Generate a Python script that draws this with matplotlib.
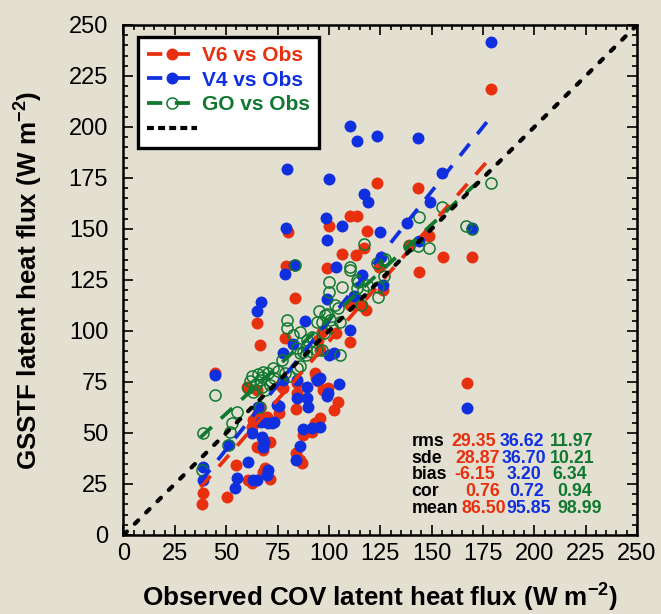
import numpy as np
import matplotlib.pyplot as plt
from matplotlib.lines import Line2D
from matplotlib.ticker import MultipleLocator

plt.rcParams['font.family'] = ['Liberation Sans', 'DejaVu Sans']
plt.rcParams['lines.scale_dashes'] = False
plt.rcParams['mathtext.fontset'] = 'custom'
plt.rcParams['mathtext.bf'] = 'Liberation Sans:bold'
plt.rcParams['mathtext.rm'] = 'Liberation Sans'

# colours
c_v6 = '#E8300F'
c_v4 = '#1030E0'
c_go = '#107830'
bg = '#E3E0D1'

# V6 vs Obs
v6_x = [38.6, 38.1, 50.5, 54.8, 60.8, 62.4, 68.9, 71.3, 67.8, 62.4,
        63.2, 64.8, 68.1, 71.3, 64.8, 69.7, 60.0, 64.8, 66.0, 75.7,
        44.5, 84.0, 85.9, 87.0, 95.7, 92.4, 93.2, 87.5, 91.6, 102.6,
        104.6, 84.6, 84.0, 77.5, 76.2, 94.5, 93.7, 97.3, 99.7, 93.2,
        84.3, 83.5, 79.1, 65.1, 66.5, 78.6, 96.5, 94.8, 103.3, 110.3,
        95.7, 110.3, 116.0, 117.9, 99.2, 106.2, 113.2, 117.2, 124.5, 79.9,
        100.0, 110.3, 113.8, 118.7, 123.6, 126.2, 144.0, 139.0, 148.9, 155.4,
        169.8, 167.1, 143.5, 178.8]
v6_y = [20.4, 15.2, 18.5, 34.3, 27.0, 25.3, 32.7, 27.3, 31.0, 53.1,
        56.4, 43.3, 41.7, 45.7, 58.8, 58.0, 72.7, 71.1, 62.9, 59.7,
        79.3, 40.0, 36.8, 35.4, 57.2, 52.3, 54.8, 49.0, 50.6, 61.3,
        65.3, 69.5, 61.6, 71.9, 73.5, 75.5, 76.8, 71.1, 71.9, 79.6,
        74.4, 116.0, 131.9, 103.8, 93.1, 96.7, 99.7, 95.6, 98.9, 94.8,
        90.7, 112.7, 112.7, 110.3, 130.7, 137.7, 137.3, 140.5, 131.5, 148.7,
        151.5, 156.4, 156.4, 149.0, 172.7, 120.0, 128.8, 142.0, 146.6, 136.1,
        136.1, 74.4, 170.0, 218.6]

# V4 vs Obs
v4_x = [178.8, 143.5, 155.2, 149.2, 169.8, 167.1, 137.9, 124.9, 144.0, 126.2,
        110.3, 113.8, 123.6, 100.0, 117.2, 118.9, 98.6, 106.2, 99.2, 103.5,
        125.4, 116.0, 79.7, 79.1, 83.2, 78.6, 112.2, 98.9, 66.8, 65.1,
        88.4, 82.4, 77.5, 110.3, 102.5, 100.2, 44.5, 75.7, 66.9, 70.5,
        73.4, 67.3, 68.4, 67.8, 62.4, 51.5, 60.5, 84.0, 85.9, 87.5,
        91.6, 95.7, 105.0, 99.7, 98.9, 84.6, 89.2, 89.7, 89.2, 77.5,
        84.3, 94.0, 95.7, 38.9, 38.6, 54.3, 55.1, 63.2, 64.8, 69.7,
        70.5, 65.6, 74.6, 72.2]
v4_y = [241.5, 194.5, 177.6, 163.4, 150.3, 62.4, 152.8, 148.4, 144.3, 122.5,
        200.6, 193.3, 195.6, 174.5, 167.2, 163.4, 155.2, 151.6, 144.6, 131.5,
        136.4, 127.5, 179.4, 150.3, 132.4, 127.9, 117.3, 115.5, 114.0, 110.0,
        104.9, 93.6, 89.0, 100.5, 89.0, 88.2, 78.4, 63.2, 55.5, 55.0,
        55.5, 48.2, 45.4, 43.3, 49.8, 44.1, 35.9, 36.8, 43.6, 52.0,
        52.3, 53.1, 73.9, 69.5, 68.1, 67.0, 67.0, 62.9, 72.4, 76.0,
        76.0, 76.0, 76.8, 27.0, 33.2, 22.9, 27.8, 27.0, 27.0, 29.4,
        31.9, 62.9, 63.7, 54.8]

# GO vs Obs
go_x = [178.8, 155.2, 144.0, 166.7, 169.8, 139.0, 143.5, 148.9, 126.5, 126.8,
        117.2, 110.3, 110.3, 123.3, 114.0, 118.4, 116.7, 106.2, 100.0, 100.0,
        124.0, 115.6, 124.0, 113.5, 83.5, 79.5, 79.5, 82.7, 85.9, 91.6,
        89.2, 94.0, 98.1, 100.5, 104.6, 103.0, 105.4, 84.3, 87.5, 91.6,
        96.5, 105.4, 77.0, 72.9, 70.5, 68.1, 67.3, 71.3, 68.9, 78.6,
        84.3, 86.0, 66.5, 44.5, 55.1, 53.0, 51.9, 38.6, 50.7, 38.1,
        60.5, 61.5, 62.5, 63.0, 64.5, 65.5, 66.5, 67.5, 73.5, 75.0,
        80.5, 95.2, 96.5, 98.9, 101.4, 97.6, 88.9, 94.0, 88.9, 113.5,
        127.3, 85.9]
go_y = [172.7, 161.0, 155.7, 151.6, 149.8, 141.8, 141.8, 140.5, 134.8, 127.0,
        142.6, 131.5, 129.8, 133.5, 124.2, 122.5, 120.0, 121.7, 124.2, 119.3,
        116.8, 112.7, 121.7, 121.0, 132.4, 105.4, 101.3, 98.0, 99.7, 97.2,
        95.6, 104.6, 107.8, 105.4, 111.1, 112.7, 104.6, 91.5, 89.9, 89.9,
        90.7, 88.2, 85.8, 81.7, 79.3, 80.0, 77.6, 73.5, 71.1, 79.6,
        81.7, 83.0, 62.9, 68.6, 60.4, 54.8, 50.6, 49.8, 44.1, 31.9,
        72.0, 75.5, 78.0, 70.0, 74.0, 79.0, 76.0, 72.5, 77.0, 80.5,
        78.0, 109.8, 104.6, 108.2, 102.1, 99.2, 92.3, 90.7, 88.2, 125.0,
        135.3, 89.1]

# regression lines (intercept, slope) and their x span
fit_span = [37.5, 179.0]
v6_fit = (-19.6, 1.145)
v4_fit = (-21.35, 1.265)
go_fit = (13.1, 0.927)

# statistics table
stat_names = ['rms', 'sde', 'bias', 'cor', 'mean']
v6_stats = ['29.35', '28.87', '-6.15', '0.76', '86.50']
v4_stats = ['36.62', '36.70', '3.20', '0.72', '95.85']
go_stats = ['11.97', '10.21', '6.34', '0.94', '98.99']

fig = plt.figure(figsize=(6.61, 6.14), dpi=100, facecolor=bg)
ax = fig.add_axes([0.1868, 0.1287, 0.7769, 0.8306], facecolor=bg)

ms = 8.6
ax.plot(v6_x, v6_y, 'o', color=c_v6, ms=ms, mec='none', zorder=2)
ax.plot(v4_x, v4_y, 'o', color=c_v4, ms=ms, mec='none', zorder=2)
ax.plot(go_x, go_y, 'o', mfc='none', mec=c_go, mew=1.1, ms=ms - 0.6, zorder=3)

xs = np.array(fit_span)
for (a, b), c in [(v6_fit, c_v6), (v4_fit, c_v4), (go_fit, c_go)]:
    ax.plot(xs, a + b * xs, color=c, lw=2.7, dashes=(11, 9), zorder=4)

ax.plot([0, 250], [0, 250], color='black', lw=3.0, dashes=(3.5, 8),
        dash_capstyle='round', zorder=5)

ax.set_xlim(0, 250)
ax.set_ylim(0, 250)
for a in (ax.xaxis, ax.yaxis):
    a.set_major_locator(MultipleLocator(25))
    a.set_minor_locator(MultipleLocator(5))
ax.tick_params(which='both', direction='in', top=True, right=True, width=1.2)
ax.tick_params(which='major', length=7, labelsize=17)
ax.tick_params(which='minor', length=3.5)
ax.tick_params(axis='x', pad=6)
ax.tick_params(axis='y', pad=11)
for s in ax.spines.values():
    s.set_linewidth(1.8)

ax.set_xlabel('Observed COV latent heat flux (W m$^{\\mathbf{-2}}$)',
              fontsize=18.7, fontweight='bold', labelpad=11)
ax.set_ylabel('GSSTF latent heat flux (W m$^{\\mathbf{-2}}$)',
              fontsize=18.7, fontweight='bold', labelpad=18)

# legend
lh = 2.7
handles = [
    Line2D([], [], color=c_v6, lw=lh, dashes=(11, 9), marker='o', ms=ms, mec='none'),
    Line2D([], [], color=c_v4, lw=lh, dashes=(11, 9), marker='o', ms=ms, mec='none'),
    Line2D([], [], color=c_go, lw=lh, dashes=(11, 9), marker='o', ms=ms - 0.6,
           mfc='none', mec=c_go, mew=1.1),
    Line2D([], [], color='black', lw=3.0, dashes=(5, 3)),
]
leg = ax.legend(handles, ['V6 vs Obs', 'V4 vs Obs', 'GO vs Obs', ' '],
                loc='upper left', bbox_to_anchor=(0.028, 0.976), borderaxespad=0,
                fancybox=False, framealpha=1, facecolor='white', edgecolor='black',
                prop={'weight': 'bold', 'size': 15}, handlelength=2.4,
                handletextpad=0.25, labelspacing=0.27, borderpad=0.42)
leg.get_frame().set_linewidth(2.4)
for t, c in zip(leg.get_texts(), [c_v6, c_v4, c_go]):
    t.set_color(c)

# stats block: left edge of each cell (axes fraction) as laid out in the original
row_y = [0.183, 0.149, 0.118, 0.085, 0.052]
name_x = 0.561
v6_x0 = [0.639, 0.646, 0.644, 0.665, 0.659]
v4_x0 = [0.733, 0.737, 0.746, 0.751, 0.745]
go_x0 = [0.831, 0.831, 0.836, 0.844, 0.844]
for i, name in enumerate(stat_names):
    kw = dict(transform=ax.transAxes, fontsize=12.8, fontweight='bold',
              va='center', ha='left')
    ax.text(name_x, row_y[i], name, color='black', **kw)
    ax.text(v6_x0[i], row_y[i], v6_stats[i], color=c_v6, **kw)
    ax.text(v4_x0[i], row_y[i], v4_stats[i], color=c_v4, **kw)
    ax.text(go_x0[i], row_y[i], go_stats[i], color=c_go, **kw)

fig.savefig('out.png', dpi=100, facecolor=bg)
